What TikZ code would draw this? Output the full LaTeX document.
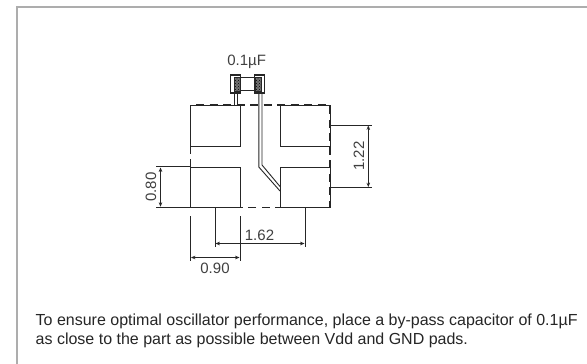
\documentclass[tikz,border=0pt]{standalone}
\usepackage{fontspec}
\setmainfont{Liberation Sans}
\usetikzlibrary{arrows.meta,patterns}
\definecolor{dk}{gray}{0.15}
\definecolor{frm}{gray}{0.68}
\definecolor{txt}{gray}{0.25}
\tikzset{
  x=1pt,y=-1pt,
  pad/.style={draw=dk,line width=0.9pt},
  outline/.style={draw=dk,line width=1.2pt,dash pattern=on 8pt off 5.5pt},
  dimline/.style={draw=dk,line width=0.8pt},
  dimarrow/.style={draw=dk,line width=0.6pt,{Straight Barb[length=3.5pt,width=3pt]}-{Straight Barb[length=3.5pt,width=3pt]}},
  dimtext/.style={text=txt,font=\fontsize{15}{17}\selectfont,inner sep=0pt},
  capbox/.style={draw=dk,line width=1.1pt},
  hatchbox/.style={preaction={fill=black!55},pattern=crosshatch dots,pattern color=black,draw=dk,line width=0.8pt},
  note/.style={text=black!85,font=\fontsize{16}{19}\selectfont,align=left,inner sep=0pt,anchor=base west}
}
\begin{document}
\begin{tikzpicture}
\useasboundingbox (0,0) rectangle (587,364);
\fill[white] (0,0) rectangle (587,364);
% frame
\draw[frm,line width=2pt] (16.5,364) -- (16.5,6.5) -- (587,6.5);
% pads
\draw[pad] (190.5,105) rectangle (240,146);
\draw[pad] (280,105) rectangle (330,146);
\draw[pad] (190.5,167) rectangle (240,207.5);
\draw[pad] (280,167) rectangle (330,207.5);
% package outline
\draw[outline] (190.5,207.5) -- (190.5,105) -- (330,105) -- (330,207.5) -- cycle;
% capacitor
\draw[capbox,fill=white] (230.5,75) rectangle (240.5,93);
\draw[capbox,fill=white] (254.5,75) rectangle (264.5,93);
\draw[dk,line width=0.9pt] (240.5,77) -- (254.5,77) (240.5,90) -- (254.5,90);
\draw[hatchbox] (234.5,77) rectangle (240.5,91);
\draw[hatchbox] (255,77) rectangle (261,91);
% traces
\draw[dk,line width=0.9pt] (234.3,93) -- (234.3,105);
\draw[dk,line width=0.9pt] (237.5,93) -- (237.5,105);
\draw[dk,line width=0.9pt] (258.8,93) -- (258.8,167) -- (280,191);
\draw[dk,line width=0.9pt] (262,93) -- (262,165) -- (280,186.5);
% dim 0.80
\draw[dimline] (156,166.7) -- (190.5,166.7) (156,207.5) -- (190.5,207.5);
\draw[dimarrow] (160.5,167.5) -- (160.5,206.7);
\node[dimtext,rotate=90] (d80) at (151,187) {0.80};
% dim 0.90
\draw[dimline] (190.5,216) -- (190.5,261) (240,216) -- (240,261);
\draw[dimarrow] (191,257.5) -- (239.5,257.5);
\node[dimtext] (d90) at (215,268) {0.90};
% dim 1.62
\draw[dimline] (215,207.5) -- (215,247) (305,207.5) -- (305,246.5);
\draw[dimarrow] (215.5,243.5) -- (304.5,243.5);
\node[dimtext] (d162) at (259.5,235) {1.62};
% dim 1.22
\draw[dimline] (330,125) -- (372,125) (330,187.5) -- (372,187.5);
\draw[dimarrow] (368.3,125.5) -- (368.3,187);
\node[dimtext,rotate=90] (d122) at (359,156) {1.22};
% labels
\node[dimtext] (cap) at (246.7,62) {0.1µF};
\node[note] (n) at (35.5,344) {To ensure optimal oscillator performance, place a by-pass capacitor of 0.1µF\\as close to the part as possible between Vdd and GND pads.};
\end{tikzpicture}
\end{document}
